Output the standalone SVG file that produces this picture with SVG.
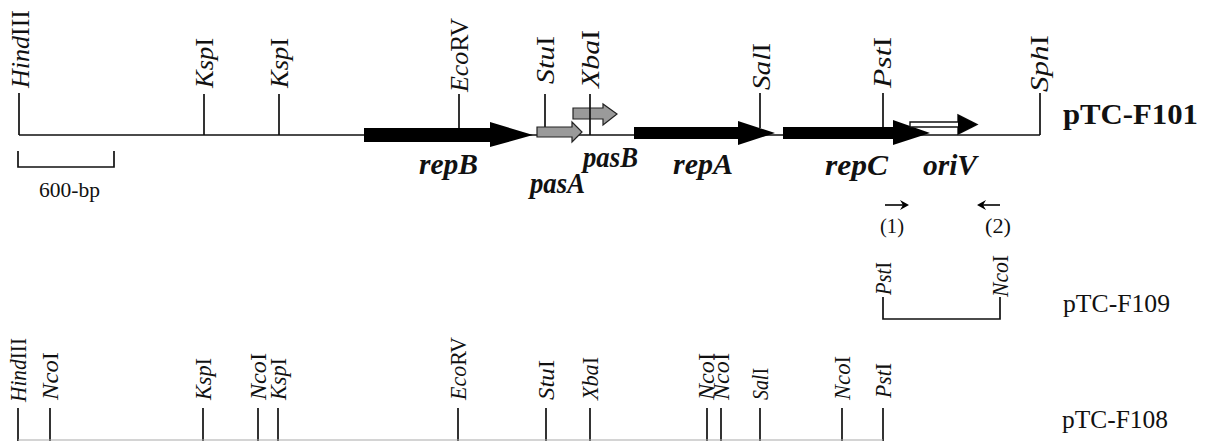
<svg xmlns="http://www.w3.org/2000/svg" width="1215" height="441" viewBox="0 0 1215 441">
<style>
.ln{stroke:#111;stroke-width:1.7;fill:none}
.lab{font-family:"Liberation Serif",serif;font-size:26px;fill:#111}
.lab2{font-family:"Liberation Serif",serif;font-size:24px;fill:#111}
.sm{font-family:"Liberation Serif",serif;font-size:20px;fill:#111}
.it{font-style:italic}
.gene{font-family:"Liberation Serif",serif;font-size:30px;font-weight:bold;font-style:italic;fill:#111}
.name{font-family:"Liberation Serif",serif;font-size:26px;fill:#111}
.blk{fill:#000;stroke:none}
.gry{fill:#9a9a9a;stroke:#222;stroke-width:1.2}
</style>
<rect width="1215" height="441" fill="#fff"/>

<g id="map-F101">
  <path class="ln" d="M19,135 H1040 M19,93 V135 M204,94 V135 M279,94 V135 M459,94 V135 M545,94 V128 M760,93 V128 M883,93 V128 M1040,93 V135"/>
  <g id="repB"><polygon class="blk" points="364,128 490,128 490,122 533,135 490,147 490,142 364,142"/></g>
  <g id="pasA"><polygon class="gry" points="537,127 572,127 572,122 582,132 572,142 572,137 537,137"/></g>
  <g id="pasB"><polygon class="gry" points="573,108 603,108 603,104 617,114 603,125 603,119 573,119"/></g>
  <path class="ln" d="M590,94 V135"/>
  <g id="repA"><polygon class="blk" points="634,127 738,127 738,121 775,133 738,145 738,139 634,139"/></g>
  <g id="repC"><polygon class="blk" points="783,127 893,127 893,120 930,133 893,145 893,139 783,139"/></g>
  <g id="oriV"><polygon fill="#fff" stroke="#111" stroke-width="1.4" points="910,122 958,122 958,115 977,124.5 958,134 958,127 910,127"/><polygon class="blk" points="958,115 977,124.5 958,134"/></g>
  <text class="lab" transform="translate(29,88) rotate(-90)" textLength="78" lengthAdjust="spacingAndGlyphs"><tspan class="it">Hind</tspan>III</text>
  <text class="lab" transform="translate(213,88) rotate(-90)" textLength="50" lengthAdjust="spacingAndGlyphs"><tspan class="it">Ksp</tspan>I</text>
  <text class="lab" transform="translate(288,88) rotate(-90)" textLength="50" lengthAdjust="spacingAndGlyphs"><tspan class="it">Ksp</tspan>I</text>
  <text class="lab" transform="translate(468,92) rotate(-90)" textLength="74" lengthAdjust="spacingAndGlyphs"><tspan class="it">Eco</tspan>RV</text>
  <text class="lab" transform="translate(554,84) rotate(-90)" textLength="48" lengthAdjust="spacingAndGlyphs"><tspan class="it">Stu</tspan>I</text>
  <text class="lab" transform="translate(599,88) rotate(-90)" textLength="58" lengthAdjust="spacingAndGlyphs"><tspan class="it">Xba</tspan>I</text>
  <text class="lab" transform="translate(770,90) rotate(-90)" textLength="47" lengthAdjust="spacingAndGlyphs"><tspan class="it">Sal</tspan>I</text>
  <text class="lab" transform="translate(891,88) rotate(-90)" textLength="51" lengthAdjust="spacingAndGlyphs"><tspan class="it">Pst</tspan>I</text>
  <text class="lab" transform="translate(1048,92) rotate(-90)" textLength="57" lengthAdjust="spacingAndGlyphs"><tspan class="it">Sph</tspan>I</text>
  <text class="gene" x="419" y="174" textLength="59" lengthAdjust="spacingAndGlyphs">repB</text>
  <text class="gene" x="530" y="193" font-size="25" textLength="55" lengthAdjust="spacingAndGlyphs">pasA</text>
  <text class="gene" x="583" y="167" font-size="25" textLength="55" lengthAdjust="spacingAndGlyphs">pasB</text>
  <text class="gene" x="673" y="174" textLength="60" lengthAdjust="spacingAndGlyphs">repA</text>
  <text class="gene" x="825" y="175" textLength="63" lengthAdjust="spacingAndGlyphs">repC</text>
  <text class="gene" x="923" y="175" textLength="54" lengthAdjust="spacingAndGlyphs">oriV</text>
  <text x="1063" y="124" font-family="Liberation Serif, serif" font-size="30" font-weight="bold" fill="#111" textLength="135" lengthAdjust="spacingAndGlyphs">pTC-F101</text>
</g>

<g id="scale-bar">
  <path class="ln" d="M18,151 V167 H114 V151"/>
  <text class="sm" x="39" y="197" textLength="61" lengthAdjust="spacingAndGlyphs">600-bp</text>
</g>

<g id="primers">
  <path class="ln" stroke-width="2" d="M885,205 H906"/>
  <polygon class="blk" points="900,200 909,205 900,210 903,205"/>
  <path class="ln" stroke-width="2" d="M1000,205 H980"/>
  <polygon class="blk" points="986,200 977,205 986,210 983,205"/>
  <text class="sm" x="880" y="233" textLength="24" lengthAdjust="spacingAndGlyphs">(1)</text>
  <text class="sm" x="985" y="233" textLength="26" lengthAdjust="spacingAndGlyphs">(2)</text>
</g>

<g id="map-F109">
  <path class="ln" d="M883,297 V319 H1000 V297"/>
  <text class="lab2" transform="translate(891,295) rotate(-90)" textLength="33" lengthAdjust="spacingAndGlyphs"><tspan class="it">Pst</tspan>I</text>
  <text class="lab2" transform="translate(1008,297) rotate(-90)" textLength="42" lengthAdjust="spacingAndGlyphs"><tspan class="it">Nco</tspan>I</text>
  <text class="name" x="1063" y="312" textLength="107" lengthAdjust="spacingAndGlyphs">pTC-F109</text>
</g>

<g id="map-F108">
  <path class="ln" d="M18,408 V441 M50,408 V441 M203,408 V441 M258,408 V441 M278,408 V441 M458,408 V441 M546,408 V441 M590,408 V441 M707,408 V441 M721,408 V441 M760,408 V441 M842,408 V441 M883,408 V441"/>
  <path d="M18,440 H883" stroke="#aaa" stroke-width="1.2"/>
  <text class="lab2" transform="translate(26,402) rotate(-90)" textLength="64" lengthAdjust="spacingAndGlyphs"><tspan class="it">Hind</tspan>III</text>
  <text class="lab2" transform="translate(58,400) rotate(-90)" textLength="48" lengthAdjust="spacingAndGlyphs"><tspan class="it">Nco</tspan>I</text>
  <text class="lab2" transform="translate(211,400) rotate(-90)" textLength="42" lengthAdjust="spacingAndGlyphs"><tspan class="it">Ksp</tspan>I</text>
  <text class="lab2" transform="translate(266,400) rotate(-90)" textLength="47" lengthAdjust="spacingAndGlyphs"><tspan class="it">Nco</tspan>I</text>
  <text class="lab2" transform="translate(286,400) rotate(-90)" textLength="42" lengthAdjust="spacingAndGlyphs"><tspan class="it">Ksp</tspan>I</text>
  <text class="lab2" transform="translate(466,400) rotate(-90)" textLength="63" lengthAdjust="spacingAndGlyphs"><tspan class="it">Eco</tspan>RV</text>
  <text class="lab2" transform="translate(554,400) rotate(-90)" textLength="40" lengthAdjust="spacingAndGlyphs"><tspan class="it">Stu</tspan>I</text>
  <text class="lab2" transform="translate(598,400) rotate(-90)" textLength="43" lengthAdjust="spacingAndGlyphs"><tspan class="it">Xba</tspan>I</text>
  <text class="lab2" transform="translate(714,400) rotate(-90)" textLength="47" lengthAdjust="spacingAndGlyphs"><tspan class="it">Nco</tspan>I</text>
  <text class="lab2" transform="translate(729,400) rotate(-90)" textLength="47" lengthAdjust="spacingAndGlyphs"><tspan class="it">Nco</tspan>I</text>
  <text class="lab2" transform="translate(768,400) rotate(-90)" textLength="32" lengthAdjust="spacingAndGlyphs"><tspan class="it">Sal</tspan>I</text>
  <text class="lab2" transform="translate(850,400) rotate(-90)" textLength="44" lengthAdjust="spacingAndGlyphs"><tspan class="it">Nco</tspan>I</text>
  <text class="lab2" transform="translate(891,398) rotate(-90)" textLength="35" lengthAdjust="spacingAndGlyphs"><tspan class="it">Pst</tspan>I</text>
  <text class="name" x="1062" y="428" textLength="106" lengthAdjust="spacingAndGlyphs">pTC-F108</text>
</g>
</svg>
